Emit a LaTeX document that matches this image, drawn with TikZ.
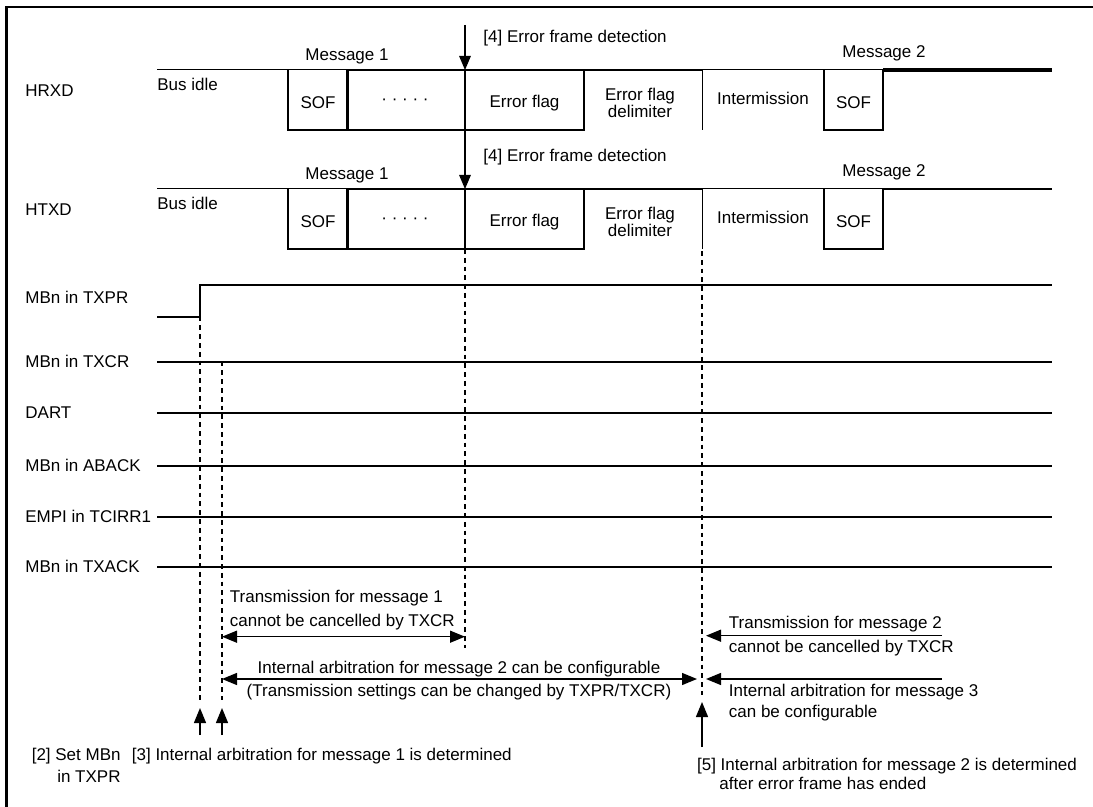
\documentclass[tikz,border=0pt]{standalone}
\usepackage{fontspec}
\setmainfont{Liberation Sans}
\usetikzlibrary{arrows.meta}
\tikzset{
	lourd/.style={line width=1.1pt},
	leger/.style={line width=0.5pt},
	txt/.style={inner sep=0pt},
	guide/.style={line width=0.55pt, dash pattern=on 2.4pt off 2pt},
	tip/.style={line width=0.65pt, -{Triangle[length=7.5pt,width=6pt]}},
	tips/.style={line width=0.65pt, {Triangle[length=7.5pt,width=6pt]}-{Triangle[length=7.5pt,width=6pt]}},
	detect/.style={line width=0.55pt, -{Triangle[length=7pt,width=5.8pt]}}
}
%one bus line: top edge, name, width of the last segment
\newcommand{\busframe}[3]{
	\draw[leger] (157,#1) -- (347.5,#1);
	\draw[leger] (702.5,#1+60) -- (702.5,#1) -- (883,#1);
	\draw[lourd] (288,#1) -- (288,#1+60) -- (584,#1+60) -- (584,#1);
	\draw[lourd] (347.5,#1+60) -- (347.5,#1) -- (702.5,#1);
	\draw[lourd] (465,#1) -- (465,#1+60);
	\draw[lourd] (824,#1) -- (824,#1+60) -- (883,#1+60) -- (883,#1);
	\draw[line width=#3] (883,#1) -- (1052,#1);
	\coordinate (#2-top) at (465,#1);
	\coordinate (#2-bot) at (465,#1+60);
	\node[txt, anchor=base west] (#2) at (25,#1+27) {#2};
	\node[txt, anchor=base west] (#2-idle) at (157,#1+21) {Bus idle};
	\node[txt, anchor=base] (#2-msg1) at (347,#1-9) {Message 1};
	\node[txt, anchor=base] (#2-msg2) at (884,#1-12) {Message 2};
	\node[txt, anchor=base] (#2-sof1) at (318,#1+38.5) {SOF};
	\node[txt, anchor=base] (#2-dots) at (405,#1+35) {· · · · ·};
	\node[txt, anchor=base] (#2-flag) at (524.5,#1+38) {Error flag};
	\node[txt, anchor=base] (#2-del1) at (640,#1+31) {Error flag};
	\node[txt, anchor=base] (#2-del2) at (640,#1+48) {delimiter};
	\node[txt, anchor=base] (#2-inter) at (763,#1+35) {Intermission};
	\node[txt, anchor=base] (#2-sof2) at (853.5,#1+39) {SOF};
	\node[txt, anchor=base west] (#2-det) at (483,#1-27) {[4] Error frame detection}}
%one flat signal: level, label, name
\newcommand{\sig}[3]{
	\node[txt, anchor=base west] (#3) at (25,#1+5.5) {#2};
	\draw[lourd] (157,#1) -- (1052,#1)}

\begin{document}
\begin{tikzpicture}[x=0.5pt, y=-0.5pt, font=\fontsize{8.5}{10}\selectfont]
\useasboundingbox (0,0) rectangle (1093,807);
%Frame
	\draw[line width=1.2pt] (6.5,807) -- (6.5,7) -- (1093,7);
%Bus lines
	\busframe{70}{HRXD}{1.6pt};
	\busframe{189}{HTXD}{1.1pt};
	\coordinate (det) at (465,25);
	\draw[detect] (det) -- (HRXD-top);
	\draw[detect] (HRXD-bot) -- (HTXD-top);
%Signals
	\draw[lourd] (157,316.7) -- (200,316.7) -- (200,285) -- (1052,285);
	\node[txt, anchor=base west] (txpr) at (25,304) {MBn in TXPR};
	\sig{361.7}{MBn in TXCR}{txcr};
	\sig{413.3}{DART}{dart};
	\sig{466}{MBn in ABACK}{aback};
	\sig{516.7}{EMPI in TCIRR1}{empi};
	\sig{566.7}{MBn in TXACK}{txack};
%Guides
	\coordinate (set-a) at (200,316.7);
	\coordinate (set-b) at (200,700);
	\coordinate (arb-a) at (222,361.7);
	\coordinate (arb-b) at (222,700);
	\coordinate (err-b) at (465,648);
	\coordinate (end-a) at (702,251);
	\coordinate (end-b) at (702,695);
	\draw[guide] (set-a) -- (set-b);
	\draw[guide] (arb-a) -- (arb-b);
	\draw[guide] (HTXD-bot) -- (err-b);
	\draw[guide] (end-a) -- (end-b);
%Spans
	\coordinate (m1-l) at (222,636.7);
	\coordinate (m1-r) at (465,636.7);
	\draw[tips] (m1-l) -- (m1-r);
	\node[txt, anchor=base west] (m1-t1) at (229.5,602.5) {Transmission for message 1};
	\node[txt, anchor=base west] (m1-t2) at (229.5,626.5) {cannot be cancelled by TXCR};
	\coordinate (m2-l) at (222,679);
	\coordinate (m2-r) at (697,679);
	\draw[tips] (m2-l) -- (m2-r);
	\node[txt, anchor=base] (m2-t1) at (459,674) {Internal arbitration for message 2 can be configurable};
	\node[txt, anchor=base] (m2-t2) at (459,696) {(Transmission settings can be changed by TXPR/TXCR)};
	\coordinate (m3-a) at (942,635.7);
	\coordinate (m3-b) at (706,635.7);
	\draw[tip] (m3-a) -- (m3-b);
	\node[txt, anchor=base west] (m3-t1) at (728.5,628.5) {Transmission for message 2};
	\node[txt, anchor=base west] (m3-t2) at (728.5,652.5) {cannot be cancelled by TXCR};
	\coordinate (m4-a) at (942,679);
	\coordinate (m4-b) at (706,679);
	\draw[tip] (m4-a) -- (m4-b);
	\node[txt, anchor=base west] (m4-t1) at (728.5,696.5) {Internal arbitration for message 3};
	\node[txt, anchor=base west] (m4-t2) at (728.5,717.5) {can be configurable};
%Events
	\coordinate (ev2-a) at (200,735);
	\coordinate (ev2-b) at (200,708);
	\coordinate (ev3-a) at (222,735);
	\coordinate (ev3-b) at (222,708);
	\coordinate (ev5-a) at (702,747);
	\coordinate (ev5-b) at (702,702);
	\draw[tip] (ev2-a) -- (ev2-b);
	\draw[tip] (ev3-a) -- (ev3-b);
	\draw[tip] (ev5-a) -- (ev5-b);
	\node[txt, anchor=base east] (ev2-t1) at (121,760) {[2] Set MBn};
	\node[txt, anchor=base east] (ev2-t2) at (121,782) {in TXPR};
	\node[txt, anchor=base west] (ev3-t) at (131.5,760) {[3] Internal arbitration for message 1 is determined};
	\node[txt, anchor=base west] (ev5-t1) at (696.7,770) {[5] Internal arbitration for message 2 is determined};
	\node[txt, anchor=base west] (ev5-t2) at (719,789.5) {after error frame has ended};
\end{tikzpicture}
\end{document}
